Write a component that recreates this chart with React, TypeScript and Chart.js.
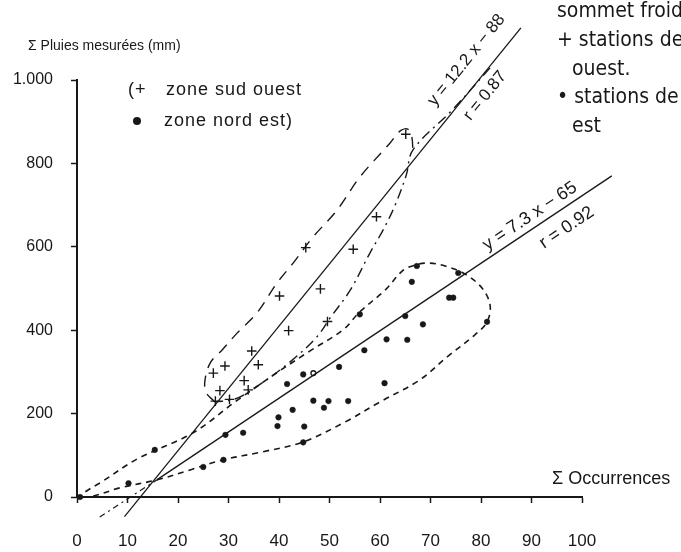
import React, { useEffect, useRef } from "react";
import { Chart, registerables } from "chart.js";

Chart.register(...registerables);

// ---------- tick values ----------
const xTickValues = [0, 10, 20, 30, 40, 50, 60, 70, 80, 90, 100];
const yTickValues = [0, 200, 400, 600, 800, 1000];
const yTickLabels = ["0", "200", "400", "600", "800", "1.000"];

// ---------- zone sud ouest (+) ----------
const sudOuestX = [65.1, 59.3, 54.7, 45.3, 48.2, 40.1, 41.9, 49.6, 34.6, 35.9, 29.3, 27.0, 33.1, 33.9, 28.3, 27.4, 30.2];
const sudOuestY = [870, 672, 594, 598, 499, 482, 399, 421, 350, 317, 314, 297, 279, 257, 255, 230, 234];

// ---------- zone nord est (•) ----------
const nordEstX = [67.3, 75.5, 66.3, 73.7, 74.5, 81.2, 65.0, 68.5, 56.0, 61.3, 65.4, 56.9, 51.9, 60.9, 53.7, 44.8, 41.6, 46.8, 49.8, 48.9, 42.7, 39.9, 39.7, 45.0, 44.8, 29.4, 32.9, 29.0, 25.0, 15.4, 10.2, 0.6];
const nordEstY = [554, 537, 516, 478, 478, 420, 434, 414, 438, 378, 377, 352, 312, 273, 230, 294, 271, 231, 230, 214, 209, 191, 170, 169, 131, 149, 154, 89, 72, 113, 33, 0];
const openDotX = [46.8];
const openDotY = [297];

// ---------- regression lines ----------
const regSudOuestX = [9.4, 87.9];
const regSudOuestY = [-47, 1125];
const regNordEstX = [15.8, 105.9];
const regNordEstY = [41, 770];
const regNordEstExtX = [4.5, 15.8];
const regNordEstExtY = [-48, 41];

// ---------- envelope sud ouest ----------
const envSoDashX = [27.3, 25.5, 25.4, 26.5, 28.7, 31.7, 35.6, 39.6, 42.8, 46.7, 51.5, 56.0, 62.0, 64.0, 65.5, 66.3, 66.5];
const envSoDashY = [228, 252, 285, 324, 352, 393, 441, 513, 561, 623, 688, 767, 849, 878, 882, 863, 832];
const envSoDotDashX = [81.8, 74.3, 66.5, 65.2, 63.0, 60.6, 58.0, 54.1, 50.1, 47.5, 42.2, 35.5, 31.3, 27.3];
const envSoDotDashY = [1029, 928, 832, 772, 700, 640, 585, 496, 429, 384, 324, 264, 235, 228];

// ---------- envelope nord est ----------
const envNeX = [1.0, 3.2, 8.5, 15.8, 22.4, 28.9, 36.6, 44.8, 53.1, 60.0, 67.9, 73.3, 78.8, 81.2, 81.8, 80.2, 76.8, 72.9, 69.5, 66.9, 64.6, 61.0, 56.0, 52.7, 46.1, 38.6, 31.3, 23.0, 11.9, 4.6, 1.6, 1.0];
const envNeY = [0, 2, 22, 41, 65, 89, 108, 132, 180, 228, 281, 336, 389, 420, 460, 501, 535, 554, 561, 556, 544, 496, 444, 401, 350, 290, 228, 154, 91, 34, 12, 0];

const INK = "#181818";
const SANS = "'Liberation Sans', Arial, sans-serif";
const NARROW = "'Liberation Sans Narrow', 'DejaVu Sans Condensed', 'Liberation Sans', sans-serif";

const pts = (xs: number[], ys: number[]) => xs.map((x, i) => ({ x, y: ys[i] }));

function alongLine(ctx: CanvasRenderingContext2D, chart: any, text: string, xs: number[], ys: number[], atX: number, offset: number) {
  const sx = chart.scales.x, sy = chart.scales.y;
  const p1x = sx.getPixelForValue(xs[0]), p1y = sy.getPixelForValue(ys[0]);
  const p2x = sx.getPixelForValue(xs[1]), p2y = sy.getPixelForValue(ys[1]);
  const a = Math.atan2(p2y - p1y, p2x - p1x);
  const t = (atX - xs[0]) / (xs[1] - xs[0]);
  const px = p1x + t * (p2x - p1x), py = p1y + t * (p2y - p1y);
  const nx = Math.sin(a), ny = -Math.cos(a);
  ctx.save();
  ctx.translate(px + nx * offset, py + ny * offset);
  ctx.rotate(a);
  ctx.textAlign = "center";
  ctx.textBaseline = "middle";
  ctx.fillText(text, 0, 0);
  ctx.restore();
}

const annotations = {
  id: "annotations",
  afterDraw(chart: any) {
    const ctx: any = chart.ctx;
    ctx.save();
    ctx.fillStyle = INK;
    ctx.textBaseline = "middle";
    ctx.textAlign = "left";

    ctx.font = `14px ${SANS}`;
    ctx.fillText("\u03A3 Pluies mesur\u00E9es (mm)", 28, 46);

    // legend
    ctx.font = `18px ${SANS}`;
    ctx.letterSpacing = "1px";
    ctx.fillText("(+", 128, 90);
    ctx.fillText("zone sud ouest", 166, 90);
    ctx.beginPath();
    ctx.arc(137, 121, 4, 0, Math.PI * 2);
    ctx.fill();
    ctx.fillText("zone nord est)", 164, 121);
    ctx.letterSpacing = "0px";

    // right side notes
    ctx.font = `21px ${NARROW}`;
    ctx.fillText("sommet froid", 557, 12);
    ctx.fillText("+ stations de", 557, 41);
    ctx.fillText("ouest.", 572, 70);
    ctx.fillText("\u2022 stations de", 557, 98);
    ctx.fillText("est", 572, 127);

    ctx.font = `18px ${SANS}`;
    ctx.fillText("\u03A3 Occurrences", 552, 479);

    // equations
    ctx.font = `17px ${SANS}`;
    alongLine(ctx, chart, "y = 12.2 x \u2212 88", regSudOuestX, regSudOuestY, 80.5, 22);
    alongLine(ctx, chart, "r = 0.87", regSudOuestX, regSudOuestY, 78.5, -15);
    ctx.font = `18px ${SANS}`;
    alongLine(ctx, chart, "y = 7.3 x \u2212 65", regNordEstX, regNordEstY, 91, 12);
    alongLine(ctx, chart, "r = 0.92", regNordEstX, regNordEstY, 95, -18);
    ctx.restore();
  },
};

export default function App() {
  const ref = useRef<HTMLCanvasElement | null>(null);

  useEffect(() => {
    if (!ref.current) return;
    const lineBase = { showLine: true, pointRadius: 0, borderColor: INK, clip: false as any, tension: 0 };
    const chart = new Chart(ref.current, {
      type: "scatter",
      data: {
        datasets: [
          { ...lineBase, label: "envNE", data: pts(envNeX, envNeY), borderWidth: 1.6, borderDash: [6, 5], tension: 0.35 },
          { ...lineBase, label: "envSOdash", data: pts(envSoDashX, envSoDashY), borderWidth: 1.4, borderDash: [11, 8], tension: 0.35 },
          { ...lineBase, label: "envSOdotdash", data: pts(envSoDotDashX, envSoDotDashY), borderWidth: 1.4, borderDash: [10, 5, 2, 5], tension: 0.35 },
          { ...lineBase, label: "regSO", data: pts(regSudOuestX, regSudOuestY), borderWidth: 1.3 },
          { ...lineBase, label: "regNE", data: pts(regNordEstX, regNordEstY), borderWidth: 1.3 },
          { ...lineBase, label: "regNEext", data: pts(regNordEstExtX, regNordEstExtY), borderWidth: 1.2, borderDash: [6, 4, 2, 4] },
          {
            label: "zone sud ouest", data: pts(sudOuestX, sudOuestY), pointStyle: "cross", pointRadius: 4.8,
            borderColor: INK, borderWidth: 1.4, backgroundColor: INK, clip: false as any,
          },
          {
            label: "zone nord est", data: pts(nordEstX, nordEstY), pointStyle: "circle", pointRadius: 2.8,
            borderColor: INK, borderWidth: 0.5, backgroundColor: INK, clip: false as any,
          },
          {
            label: "open", data: pts(openDotX, openDotY), pointStyle: "circle", pointRadius: 2.4,
            borderColor: INK, borderWidth: 1.3, backgroundColor: "#ffffff", clip: false as any,
          },
        ],
      },
      options: {
        animation: false,
        responsive: false,
        events: [],
        layout: { padding: { left: 0, right: 99, top: 80, bottom: 0 } },
        plugins: { legend: { display: false }, tooltip: { enabled: false } },
        scales: {
          x: {
            type: "linear",
            min: 0,
            max: 100,
            afterFit: (s: any) => { s.height = 55; },
            afterBuildTicks: (s: any) => { s.ticks = xTickValues.map((v) => ({ value: v })); },
            border: { display: true, color: INK, width: 2 },
            grid: { display: true, drawOnChartArea: false, drawTicks: true, tickLength: 6, tickColor: INK, tickWidth: 1.5, color: INK },
            ticks: { color: INK, font: { family: SANS, size: 17 }, padding: 28, maxRotation: 0, autoSkip: false },
          },
          y: {
            type: "linear",
            min: 0,
            max: 1000,
            afterFit: (s: any) => { s.width = 77; },
            afterBuildTicks: (s: any) => { s.ticks = yTickValues.map((v) => ({ value: v })); },
            border: { display: true, color: INK, width: 2 },
            grid: { display: true, drawOnChartArea: false, drawTicks: true, tickLength: 6, tickColor: INK, tickWidth: 1.5, color: INK },
            ticks: {
              color: INK, font: { family: SANS, size: 16 }, padding: 18, autoSkip: false,
              callback: (v: any) => { const i = yTickValues.indexOf(Number(v)); return i >= 0 ? yTickLabels[i] : ""; },
            },
          },
        },
      },
      plugins: [annotations],
    } as any);
    return () => chart.destroy();
  }, []);

  return (
    <div style={{ position: "fixed", left: 0, top: 0, width: 681, height: 552, background: "#ffffff" }}>
      <canvas ref={ref} width={681} height={552} style={{ display: "block" }} />
    </div>
  );
}
